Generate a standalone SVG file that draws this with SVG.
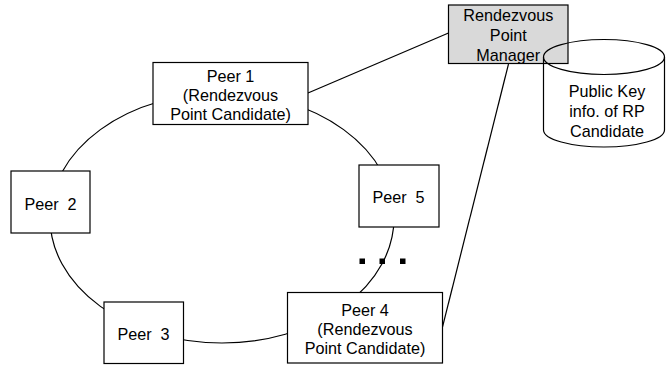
<svg xmlns="http://www.w3.org/2000/svg" width="666" height="366" viewBox="0 0 666 366">
<style>
.box{fill:#fff;stroke:#000;stroke-width:1.2}
.rpm{fill:#d9d9d9;stroke:#000;stroke-width:1.2}
.ln{fill:none;stroke:#000;stroke-width:1.2}
text{font-family:"Liberation Sans",Arial,sans-serif;font-size:16.2px;fill:#000;text-anchor:middle}
</style>
<rect width="666" height="366" fill="#fff"/>
<g id="connectors">
<ellipse class="ln" cx="222" cy="218" rx="172" ry="125"/>
<line class="ln" x1="308" y1="93" x2="448.5" y2="33"/>
<line class="ln" x1="508.5" y1="64" x2="442.5" y2="327"/>
</g>
<g id="peer1">
<rect class="box" x="153" y="62.5" width="155" height="62"/>
<text x="230.5" y="81.5">Peer 1</text>
<text x="230.5" y="100.5">(Rendezvous</text>
<text x="230.5" y="119.5">Point Candidate)</text>
</g>
<g id="peer2">
<rect class="box" x="11" y="171" width="79" height="62"/>
<text x="50.5" y="209.5" xml:space="preserve">Peer  2</text>
</g>
<g id="peer3">
<rect class="box" x="104" y="302" width="79.5" height="61.5"/>
<text x="143.5" y="340" xml:space="preserve">Peer  3</text>
</g>
<g id="peer4">
<rect class="box" x="287.5" y="292.5" width="155" height="70.5"/>
<text x="365" y="316">Peer 4</text>
<text x="365" y="335">(Rendezvous</text>
<text x="365" y="354">Point Candidate)</text>
</g>
<g id="peer5">
<rect class="box" x="359" y="165" width="80" height="62"/>
<text x="398.5" y="202.5" xml:space="preserve">Peer  5</text>
</g>
<g id="dots">
<rect x="359.5" y="258.5" width="5.5" height="5.5" fill="#000"/>
<rect x="379.5" y="258.5" width="5.5" height="5.5" fill="#000"/>
<rect x="400" y="258.5" width="5.5" height="5.5" fill="#000"/>
</g>
<g id="rp-manager">
<rect class="rpm" x="448.5" y="5" width="119.5" height="58.5"/>
<text x="508.3" y="21">Rendezvous</text>
<text x="508.3" y="41">Point</text>
<text x="508.3" y="60.5">Manager</text>
</g>
<g id="public-key-db">
<path class="ln" d="M543.5,57 V130 A60.5,17 0 0 0 664.5,130 V57"/>
<ellipse class="ln" cx="604" cy="57" rx="60.5" ry="17.5"/>
<text x="607" y="97">Public Key</text>
<text x="607" y="117">info. of RP</text>
<text x="607" y="137">Candidate</text>
</g>
</svg>
